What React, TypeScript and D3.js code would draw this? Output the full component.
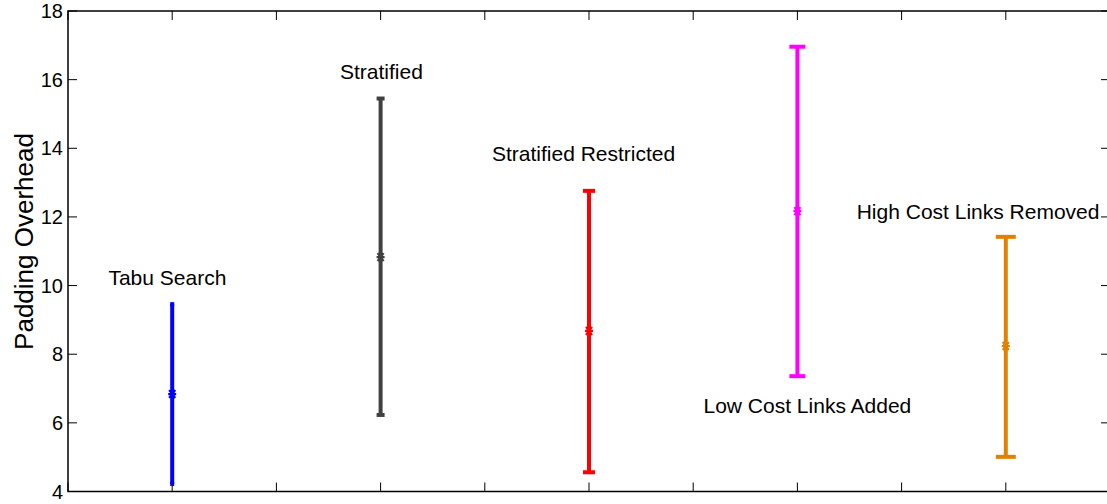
import React from "react";
import * as d3 from "d3";

const methods = ["Tabu Search", "Stratified", "Stratified Restricted", "Low Cost Links Added", "High Cost Links Removed"];
const positions = [1, 2, 3, 4, 5];
const means = [6.84, 10.83, 8.68, 12.17, 8.24];
const lows = [4.22, 6.23, 4.56, 7.36, 5.01];
const highs = [9.46, 15.45, 12.76, 16.96, 11.42];
const colors = ["#0000ff", "#404040", "#ff0000", "#ff00ff", "#e38000"];
const yTicks = [4, 6, 8, 10, 12, 14, 16, 18];
const xTicks = [0.5, 1, 1.5, 2, 2.5, 3, 3.5, 4, 4.5, 5, 5.5];
// label anchor (data coords): x, y (baseline)
const labelX = [0.977, 2.004, 2.974, 4.048, 4.867];
const labelY = [10.02, 16.02, 13.63, 6.29, 11.94];

export default function App() {
  const W = 1107, H = 504;
  const left = 68, right = 1110, top = 11, bottom = 491.5;
  const x = d3.scaleLinear().domain([0.5, 5.5]).range([left, right]);
  const y = d3.scaleLinear().domain([4, 18]).range([bottom, top]);
  const font = "'Liberation Sans', Arial, Helvetica, sans-serif";
  const tl = 9;
  return (
    <svg width={W} height={H} style={{ position: "absolute", left: 0, top: 0, background: "#fff" }}>
      <rect x={0} y={0} width={W} height={H} fill="#fff" />
      <rect x={left} y={top} width={right - left} height={bottom - top} fill="none" stroke="#000" strokeWidth={1.5} />
      {xTicks.map((t, i) => (
        <g key={"xt" + i}>
          <line x1={x(t)} x2={x(t)} y1={bottom} y2={bottom - tl} stroke="#000" strokeWidth={1} />
          <line x1={x(t)} x2={x(t)} y1={top} y2={top + tl} stroke="#000" strokeWidth={1} />
        </g>
      ))}
      {yTicks.map((t, i) => (
        <g key={"yt" + i}>
          <line x1={left} x2={left + tl} y1={y(t)} y2={y(t)} stroke="#000" strokeWidth={1} />
          <line x1={right} x2={right - tl} y1={y(t)} y2={y(t)} stroke="#000" strokeWidth={1} />
          <text x={left - 5} y={y(t)} dy="0.36em" textAnchor="end" fontFamily={font} fontSize={20} fill="#000">{t}</text>
        </g>
      ))}
      <text transform={`translate(33,241.5) rotate(-90)`} textAnchor="middle" fontFamily={font} fontSize={26} fill="#000">Padding Overhead</text>
      {methods.map((m, i) => {
        const cx = x(positions[i]);
        const cw = (i + 1) * 2;
        const c = colors[i];
        const my = y(means[i]);
        return (
          <g key={m}>
            <line x1={cx} x2={cx} y1={y(lows[i])} y2={y(highs[i])} stroke={c} strokeWidth={4} />
            <line x1={cx - cw} x2={cx + cw} y1={y(lows[i])} y2={y(lows[i])} stroke={c} strokeWidth={4} />
            <line x1={cx - cw} x2={cx + cw} y1={y(highs[i])} y2={y(highs[i])} stroke={c} strokeWidth={4} />
            <path d={`M${cx - 3},${my - 4}L${cx + 3},${my + 4}M${cx + 3},${my - 4}L${cx - 3},${my + 4}M${cx - 4},${my}L${cx + 4},${my}`} stroke={c} strokeWidth={2.2} fill="none" />
            <text x={x(labelX[i])} y={y(labelY[i])} textAnchor="middle" fontFamily={font} fontSize={21} fill="#000">{m}</text>
          </g>
        );
      })}
    </svg>
  );
}
